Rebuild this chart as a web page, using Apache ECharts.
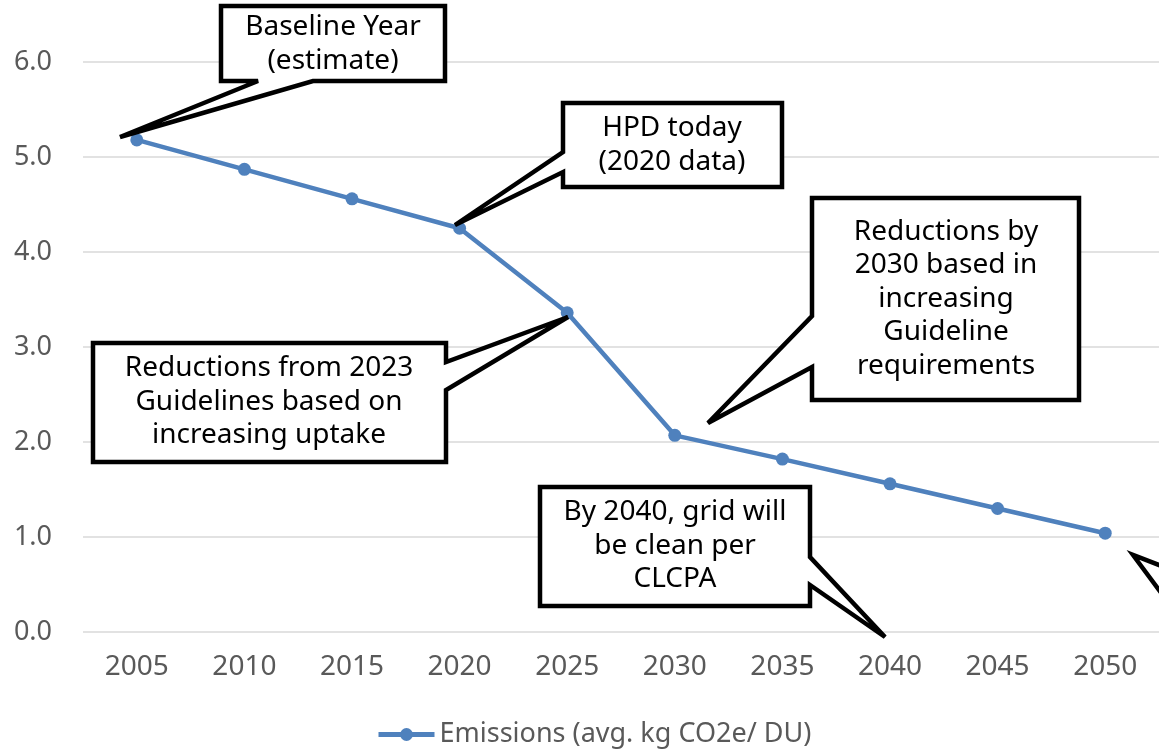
<!DOCTYPE html>
<html>
<head>
<meta charset="utf-8">
<script src="https://cdn.jsdelivr.net/npm/echarts@6/dist/echarts.min.js"></script>
<style>
html,body{margin:0;padding:0;background:#fff;}
#chart{width:1159px;height:751px;}
</style>
</head>
<body>
<div id="chart"></div>
<script>
const years = ['2005','2010','2015','2020','2025','2030','2035','2040','2045','2050'];
const emissions = [5.18, 4.87, 4.56, 4.25, 3.36, 2.07, 1.82, 1.56, 1.30, 1.04];
const seriesName = 'Emissions (avg. kg CO2e/ DU)';
const yTicks = [0, 1, 2, 3, 4, 5, 6];

const calloutTexts = [
  'Baseline Year\n(estimate)',
  'HPD today\n(2020 data)',
  'Reductions by\n2030 based in\nincreasing\nGuideline\nrequirements',
  'Reductions from 2023\nGuidelines based on\nincreasing uptake',
  'By 2040, grid will\nbe clean per\nCLCPA'
];

// annotation shapes (pixel layout)
const calloutShapes = [
  {pts:[[221,6],[445,6],[445,81],[313,81],[120,137],[258,81],[221,81]], cx:333, cy:44},
  {pts:[[563,103],[782,103],[782,187],[563,187],[563,172],[455,225],[563,152]], cx:672, cy:145},
  {pts:[[812,198],[1079,198],[1079,400],[812,400],[812,367],[708,423],[812,316]], cx:946, cy:299},
  {pts:[[93,343],[446,343],[446,362],[568,317],[446,390],[446,462],[93,462]], cx:269, cy:402},
  {pts:[[540,487],[810,487],[810,557],[885,637],[810,585],[810,606],[540,606]], cx:675, cy:546}
];

const graphics = [];
calloutShapes.forEach((c, i) => {
  graphics.push({
    type:'polygon', z:100,
    shape:{points:c.pts},
    style:{fill:'#fff', stroke:'#000', lineWidth:4.5, lineJoin:'miter', miterLimit:4}
  });
  graphics.push({
    type:'text', z:101,
    x:c.cx, y:c.cy,
    style:{text:calloutTexts[i], fill:'#000', font:'28px "Noto Sans"', align:'center', verticalAlign:'middle', lineHeight:33.5}
  });
});
// partially visible callout at right edge
graphics.push({
  type:'polygon', z:100,
  shape:{points:[[1185,575],[1133,555],[1185,625]]},
  style:{fill:'#fff', stroke:'#000', lineWidth:4.5, lineJoin:'miter', miterLimit:4}
});

const chart = echarts.init(document.getElementById('chart'));
chart.setOption({
  animation:false,
  backgroundColor:'#fff',
  grid:{left:83, top:62, width:1095, height:570, containLabel:false},
  xAxis:{
    type:'category', data:years, boundaryGap:true,
    axisLine:{show:false}, axisTick:{show:false},
    axisLabel:{color:'#595959', fontSize:28, fontFamily:'Noto Sans', margin:21}
  },
  yAxis:{
    type:'value', min:yTicks[0], max:yTicks[yTicks.length-1], interval:1,
    axisLine:{show:false}, axisTick:{show:false},
    axisLabel:{color:'#595959', fontSize:27, fontFamily:'Noto Sans', margin:31, formatter:v=>v.toFixed(1)},
    splitLine:{lineStyle:{color:'#d9d9d9', width:1.5}}
  },
  legend:{
    data:[seriesName], left:371, top:716,
    itemWidth:56, itemHeight:16, itemGap:4,
    lineStyle:{width:5},
    textStyle:{color:'#595959', fontSize:27, fontFamily:'Noto Sans'}
  },
  series:[{
    name:seriesName, type:'line', data:emissions,
    symbol:'circle', symbolSize:13,
    lineStyle:{color:'#4f81bd', width:4.5},
    itemStyle:{color:'#4f81bd'}
  }],
  graphic:graphics
});
</script>
</body>
</html>
